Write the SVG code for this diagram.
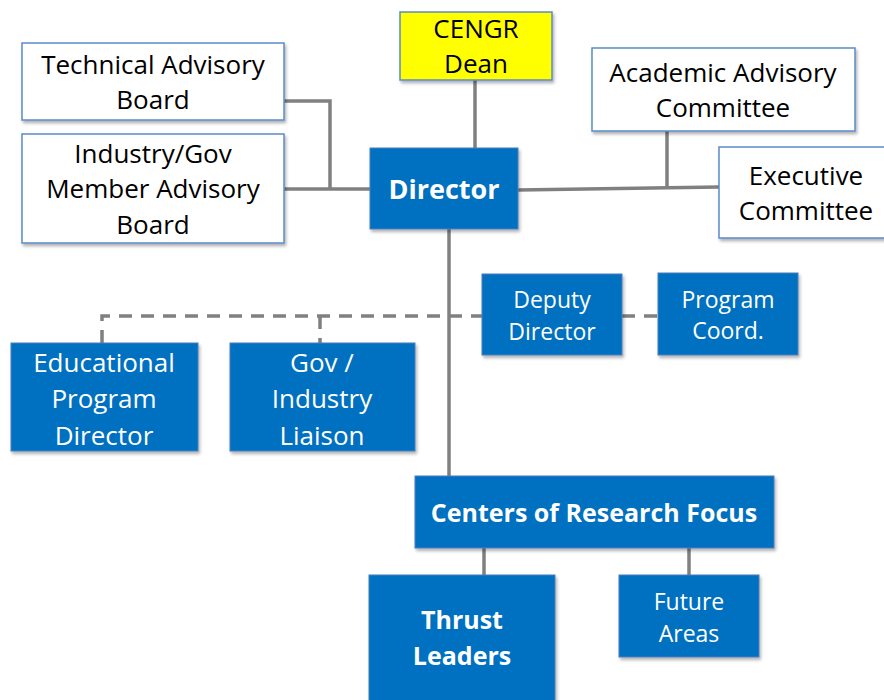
<svg xmlns="http://www.w3.org/2000/svg" width="884" height="700" viewBox="0 0 884 700">
<defs>
<filter id="sh" x="-10%" y="-10%" width="130%" height="130%">
<feDropShadow dx="1.5" dy="2.5" stdDeviation="1.5" flood-color="#000" flood-opacity="0.3"/>
</filter>
<style>
.w{fill:#fff;stroke:#5B8BC9;stroke-width:1.5;filter:url(#sh)}
.y{fill:#ffff00;stroke:#5B8BC9;stroke-width:1.5;filter:url(#sh)}
.b{fill:#0070C0;stroke:#4A7EBB;stroke-width:1;filter:url(#sh)}
text{font-family:"Open Sans","Liberation Sans",sans-serif;text-anchor:middle}
.tk{fill:#000;font-size:26px}
.tw{fill:#fff;font-size:26px}
.ts{fill:#fff;font-size:23px}
.tb{fill:#fff;font-size:25px;font-weight:bold}
.c{stroke:#808080;stroke-width:3.5;fill:none}
.d{stroke:#808080;stroke-width:3.5;fill:none;stroke-dasharray:13,9}
</style>
</defs>
<g id="connectors">
<polyline class="c" points="284,101 330,101 330,189"/>
<line class="c" x1="284" y1="189" x2="370" y2="189"/>
<line class="c" x1="475" y1="80" x2="475" y2="148"/>
<line class="c" x1="518" y1="190" x2="719" y2="187"/>
<line class="c" x1="667" y1="131" x2="667" y2="188"/>
<line class="c" x1="449" y1="229" x2="449" y2="476"/>
<polyline class="d" points="102,343 102,316 482,316"/>
<line class="d" x1="320" y1="316" x2="320" y2="343"/>
<line class="d" x1="622" y1="316" x2="658" y2="316"/>
<line class="c" x1="484" y1="548" x2="484" y2="575"/>
<line class="c" x1="689" y1="548" x2="689" y2="575"/>
</g>
<g id="tab"><rect class="w" x="22" y="43" width="262" height="77"/>
<text class="tk" x="153" y="74">Technical Advisory</text><text class="tk" x="153" y="109">Board</text></g>
<g id="igb"><rect class="w" x="22" y="134" width="262" height="109"/>
<text class="tk" x="153" y="163">Industry/Gov</text><text class="tk" x="153" y="198">Member Advisory</text><text class="tk" x="153" y="234">Board</text></g>
<g id="dean"><rect class="y" x="400" y="12" width="152" height="68"/>
<text class="tk" x="476" y="38">CENGR</text><text class="tk" x="476" y="73">Dean</text></g>
<g id="aac"><rect class="w" x="592" y="48" width="263" height="83"/>
<text class="tk" x="723" y="82">Academic Advisory</text><text class="tk" x="723" y="117">Committee</text></g>
<g id="exec"><rect class="w" x="719" y="147" width="166" height="91"/>
<text class="tk" x="806" y="185">Executive</text><text class="tk" x="806" y="220">Committee</text></g>
<g id="director"><rect class="b" x="370" y="148" width="148" height="81"/>
<text class="tb" x="444" y="199" style="font-size:27px">Director</text></g>
<g id="deputy"><rect class="b" x="482" y="274" width="140" height="81"/>
<text class="ts" x="552" y="308">Deputy</text><text class="ts" x="552" y="340">Director</text></g>
<g id="coord"><rect class="b" x="658" y="273" width="140" height="82"/>
<text class="ts" x="728" y="308">Program</text><text class="ts" x="728" y="339">Coord.</text></g>
<g id="edu"><rect class="b" x="11" y="343" width="187" height="108"/>
<text class="tw" x="104" y="372">Educational</text><text class="tw" x="104" y="408">Program</text><text class="tw" x="104" y="445">Director</text></g>
<g id="liaison"><rect class="b" x="230" y="343" width="185" height="108"/>
<text class="tw" x="322" y="372">Gov /</text><text class="tw" x="322" y="408">Industry</text><text class="tw" x="322" y="445">Liaison</text></g>
<g id="centers"><rect class="b" x="415" y="476" width="359" height="72"/>
<text class="tb" x="594" y="522">Centers of Research Focus</text></g>
<g id="thrust"><rect class="b" x="369" y="575" width="186" height="130"/>
<text class="tb" x="462" y="629">Thrust</text><text class="tb" x="462" y="665">Leaders</text></g>
<g id="future"><rect class="b" x="619" y="575" width="140" height="82"/>
<text class="ts" x="689" y="610">Future</text><text class="ts" x="689" y="642">Areas</text></g>
</svg>
